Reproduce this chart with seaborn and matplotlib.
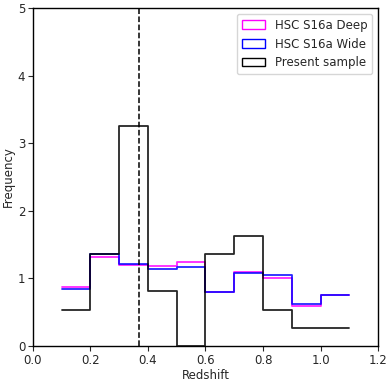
import numpy as np
import matplotlib
matplotlib.use("Agg")
import matplotlib.pyplot as plt
import seaborn as sns
from matplotlib.patches import Patch

bin_edges = [0.1, 0.2, 0.3, 0.4, 0.5, 0.6, 0.7, 0.8, 0.9, 1.0, 1.1]
deep = [0.88, 1.32, 1.20, 1.19, 1.25, 0.80, 1.09, 1.01, 0.60, 0.75]
wide = [0.85, 1.36, 1.21, 1.14, 1.17, 0.80, 1.08, 1.05, 0.62, 0.75]
present = [0.54, 1.36, 3.25, 0.81, 0.0, 1.36, 1.63, 0.54, 0.27, 0.27]
z_mark = 0.37
labels = ["HSC S16a Deep", "HSC S16a Wide", "Present sample"]
colors = ["magenta", "blue", "black"]

sns.set_style("ticks")
plt.rcParams["font.family"] = ["DejaVu Sans"]
plt.rcParams["font.size"] = 8.5

fig = plt.figure(figsize=(3.87, 3.82), dpi=100)
ax = fig.add_axes([0.085, 0.094, 0.892, 0.885])

centers = [(bin_edges[i] + bin_edges[i + 1]) / 2 for i in range(len(bin_edges) - 1)]
for vals, col in zip([deep, wide, present], colors):
    sns.histplot(x=centers, weights=vals, bins=bin_edges, element="step",
                 fill=False, color=col, linewidth=1.3, alpha=0.85, ax=ax)

ax.axvline(z_mark, color="black", linestyle="--", linewidth=1.1)

ax.set_xlim(0.0, 1.2)
ax.set_ylim(0, 5)
ax.set_xticks(np.arange(0, 1.21, 0.2))
ax.set_xticklabels([f"{t:.1f}" for t in np.arange(0, 1.21, 0.2)])
ax.set_yticks(range(6))
ax.set_xlabel("Redshift", fontsize=8.5, labelpad=1.5)
ax.set_ylabel("Frequency", fontsize=8.5, labelpad=2)
ax.tick_params(labelsize=8.5, direction="out", length=3.5, pad=2)
for s in ax.spines.values():
    s.set_linewidth(1.0)
    s.set_color("black")

handles = [Patch(facecolor="none", edgecolor=c, linewidth=1.0) for c in colors]
ax.legend(handles, labels, loc="upper right", fontsize=8.5, frameon=True)

fig.savefig("out.png", dpi=100)
